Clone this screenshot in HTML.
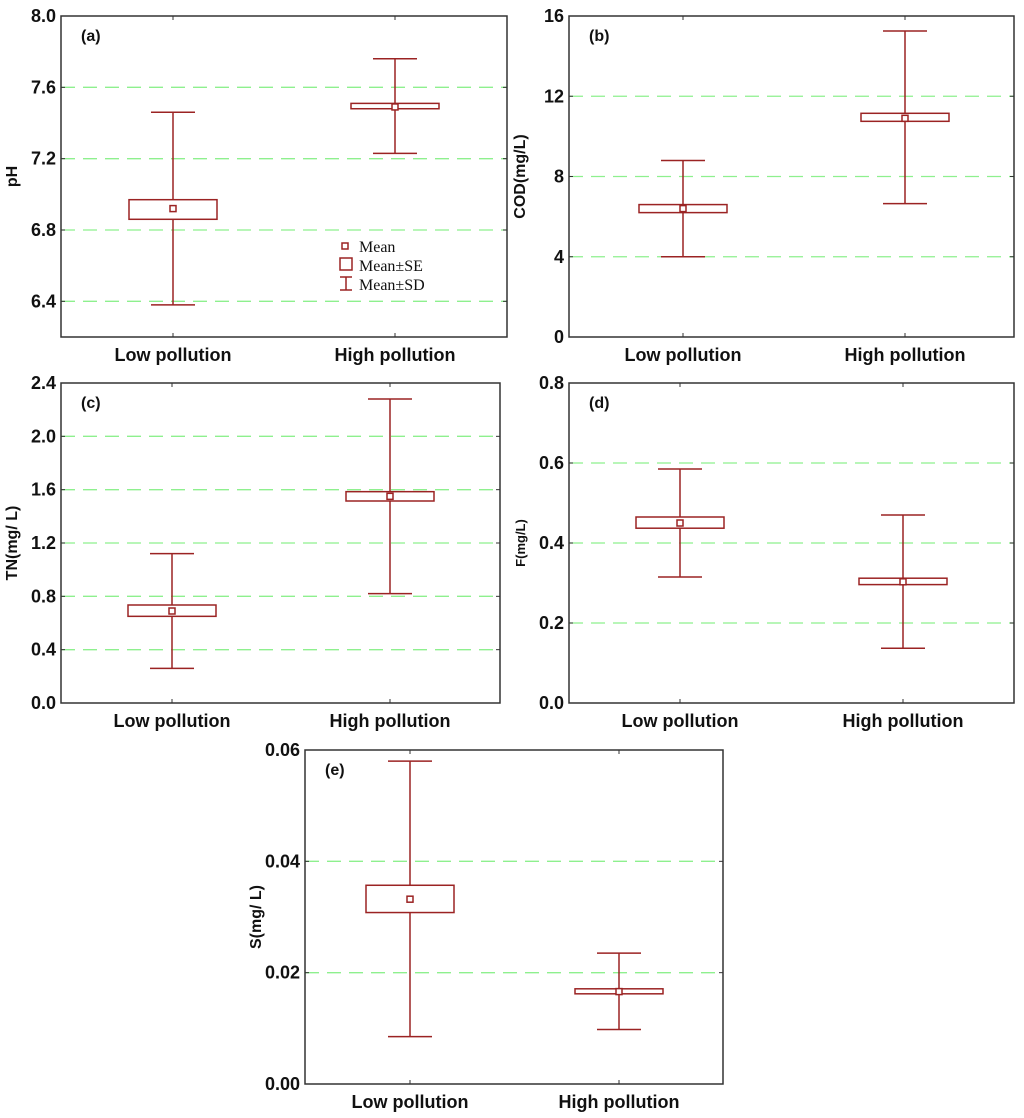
<!DOCTYPE html>
<html><head><meta charset="utf-8"><style>
body{margin:0;background:#fff}
svg{display:block}
text{font-family:"Liberation Sans",sans-serif;font-weight:bold;fill:#111}
</style></head><body>
<svg id="c" width="1024" height="1118"></svg>
<script>
const categories = ["Low pollution","High pollution"];
// panel a: pH
const aMean=[6.92,7.49], aSeLo=[6.86,7.48], aSeHi=[6.97,7.51], aSdLo=[6.38,7.23], aSdHi=[7.46,7.76];
const aTicks=[6.4,6.8,7.2,7.6,8.0], aTickLabels=["6.4","6.8","7.2","7.6","8.0"];
// panel b: COD
const bMean=[6.4,10.9], bSeLo=[6.2,10.75], bSeHi=[6.6,11.15], bSdLo=[4.0,6.65], bSdHi=[8.8,15.25];
const bTicks=[0,4,8,12,16], bTickLabels=["0","4","8","12","16"];
// panel c: TN
const cMean=[0.69,1.55], cSeLo=[0.65,1.515], cSeHi=[0.735,1.585], cSdLo=[0.26,0.82], cSdHi=[1.12,2.28];
const cTicks=[0,0.4,0.8,1.2,1.6,2.0,2.4], cTickLabels=["0.0","0.4","0.8","1.2","1.6","2.0","2.4"];
// panel d: F
const dMean=[0.45,0.303], dSeLo=[0.437,0.296], dSeHi=[0.465,0.312], dSdLo=[0.315,0.137], dSdHi=[0.585,0.47];
const dTicks=[0,0.2,0.4,0.6,0.8], dTickLabels=["0.0","0.2","0.4","0.6","0.8"];
// panel e: S
const eMean=[0.0332,0.0166], eSeLo=[0.0308,0.0162], eSeHi=[0.0357,0.0171], eSdLo=[0.0085,0.0098], eSdHi=[0.058,0.0235];
const eTicks=[0,0.02,0.04,0.06], eTickLabels=["0.00","0.02","0.04","0.06"];

const svg=document.getElementById('c');
const NS="http://www.w3.org/2000/svg";
const RED="#9b2323";
function mk(tag,attrs,parent){const e=document.createElementNS(NS,tag);for(const k in attrs)e.setAttribute(k,attrs[k]);(parent||svg).appendChild(e);return e;}

const panels=[
 {id:'a',L:61,R:507,T:16,B:337,min:6.2,max:8.0,cx:[173,395],mean:aMean,seLo:aSeLo,seHi:aSeHi,sdLo:aSdLo,sdHi:aSdHi,ticks:aTicks,labels:aTickLabels,ylab:"pH",legend:true},
 {id:'b',L:569,R:1014,T:16,B:337,min:0,max:16,cx:[683,905],mean:bMean,seLo:bSeLo,seHi:bSeHi,sdLo:bSdLo,sdHi:bSdHi,ticks:bTicks,labels:bTickLabels,ylab:"COD(mg/L)"},
 {id:'c',L:61,R:500,T:383,B:703,min:0,max:2.4,cx:[172,390],mean:cMean,seLo:cSeLo,seHi:cSeHi,sdLo:cSdLo,sdHi:cSdHi,ticks:cTicks,labels:cTickLabels,ylab:"TN(mg/ L)"},
 {id:'d',L:569,R:1014,T:383,B:703,min:0,max:0.8,cx:[680,903],mean:dMean,seLo:dSeLo,seHi:dSeHi,sdLo:dSdLo,sdHi:dSdHi,ticks:dTicks,labels:dTickLabels,ylab:"F(mg/L)",small:true},
 {id:'e',L:305,R:723,T:750,B:1084,min:0,max:0.06,cx:[410,619],mean:eMean,seLo:eSeLo,seHi:eSeHi,sdLo:eSdLo,sdHi:eSdHi,ticks:eTicks,labels:eTickLabels,ylab:"S(mg/ L)"}
];

panels.forEach(p=>{
  const g=mk('g',{});
  
  
  const y=v=>p.B-(v-p.min)/(p.max-p.min)*(p.B-p.T);
  p.ticks.forEach((t,i)=>{
    const yy=y(t);
    if(yy>p.T+2 && yy<p.B-2){
      const gl=mk('line',{x1:p.L,x2:p.R,y1:yy,y2:yy,stroke:"#8ef08e","stroke-width":1.3,"stroke-dasharray":"14,8"},g);
      
      
    }
    mk('line',{x1:p.L,x2:p.L+4,y1:yy,y2:yy,stroke:"#333"},g);
    mk('line',{x1:p.R-4,x2:p.R,y1:yy,y2:yy,stroke:"#333"},g);
    const tx=mk('text',{x:p.L-5,y:yy+6,"text-anchor":"end","font-size":18},g);
    tx.textContent=p.labels[i];
    
    
  });
  const fr=mk('rect',{x:p.L,y:p.T,width:p.R-p.L,height:p.B-p.T,fill:"none",stroke:"#333","stroke-width":1.5},g);
  
  
  categories.forEach((cat,i)=>{
    const x=p.cx[i];
    mk('line',{x1:x,x2:x,y1:p.B,y2:p.B-4,stroke:"#333"},g);
    mk('line',{x1:x,x2:x,y1:p.T,y2:p.T+4,stroke:"#333"},g);
    const xl=mk('text',{x:x,y:p.B+24,"text-anchor":"middle","font-size":18},g);
    xl.textContent=cat;
    
    
    const wk=mk('line',{x1:x,x2:x,y1:y(p.sdLo[i]),y2:y(p.sdHi[i]),stroke:RED,"stroke-width":1.5},g);
    
    
    [p.sdLo[i],p.sdHi[i]].forEach(v=>{
      const cp=mk('line',{x1:x-22,x2:x+22,y1:y(v),y2:y(v),stroke:RED,"stroke-width":1.5},g);
      
      
    });
    const bx=mk('rect',{x:x-44,y:y(p.seHi[i]),width:88,height:Math.max(2,y(p.seLo[i])-y(p.seHi[i])),fill:"#fff",stroke:RED,"stroke-width":1.5},g);
    
    
    const mn=mk('rect',{x:x-3,y:y(p.mean[i])-3,width:6,height:6,fill:"#fff",stroke:RED,"stroke-width":1.5},g);
    
    
  });
  const pl=mk('text',{x:p.L+20,y:p.T+25,"font-size":16},g);
  pl.textContent='('+p.id+')';
  
  
  const cy=(p.T+p.B)/2;
  const yt=mk('text',{x:0,y:0,"text-anchor":"middle","font-size":p.small?13:16,transform:`translate(${p.L-44},${cy}) rotate(-90)`},g);
  yt.textContent=p.ylab;
  
  
  if(p.legend){
    const lg=mk('g',{},g);
    
    
    mk('rect',{x:342,y:243,width:6,height:6,fill:"#fff",stroke:RED,"stroke-width":1.5},lg);
    mk('rect',{x:340,y:258,width:12,height:12,fill:"#fff",stroke:RED,"stroke-width":1.5},lg);
    mk('line',{x1:346,x2:346,y1:277,y2:290,stroke:RED,"stroke-width":1.5},lg);
    mk('line',{x1:340,x2:352,y1:277,y2:277,stroke:RED,"stroke-width":1.5},lg);
    mk('line',{x1:340,x2:352,y1:290,y2:290,stroke:RED,"stroke-width":1.5},lg);
    ["Mean","Mean±SE","Mean±SD"].forEach((t,k)=>{
      const e=mk('text',{x:359,y:252+k*19,"font-size":16,style:"font-family:'Liberation Serif',serif;font-weight:normal"},lg);
      e.textContent=t;
      
      
    });
  }
});
</script>
</body></html>
